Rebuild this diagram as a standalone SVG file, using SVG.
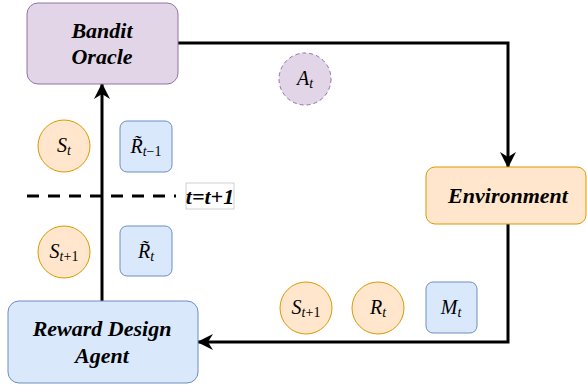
<svg xmlns="http://www.w3.org/2000/svg" width="587" height="387" viewBox="0 0 587 387">
<defs>
<marker id="arr" markerWidth="16" markerHeight="16" refX="15" refY="8" orient="auto" markerUnits="userSpaceOnUse" viewBox="0 0 16 16">
<path d="M0,0 L16,8 L0,16 L5,8 Z" fill="#000"/>
</marker>
<style>
.pur{fill:#e1d5e7;stroke:#9673a6;stroke-width:1}
.ora{fill:#ffe6cc;stroke:#d79b00;stroke-width:1}
.blu{fill:#dae8fc;stroke:#6c8ebf;stroke-width:1}
.edge{fill:none;stroke:#000;stroke-width:3}
</style>
</defs>
<rect width="587" height="387" fill="#fff"/>
<g id="connectors">
<path class="edge" d="M178,43 H508 V167" marker-end="url(#arr)"/>
<path class="edge" d="M508,224 V342 H198" marker-end="url(#arr)"/>
<path class="edge" d="M102,301 V84" marker-end="url(#arr)"/>
<path d="M27,196 H176" stroke="#000" stroke-width="3" stroke-dasharray="12,9" fill="none"/>
</g>
<g font-family="Liberation Serif, serif" font-weight="bold" font-style="italic" font-size="22" text-anchor="middle" fill="#000">
<g id="bandit-oracle">
<rect class="pur" x="27" y="3" width="151" height="81" rx="11"/>
<text x="102" y="38">Bandit</text>
<text x="102" y="64">Oracle</text>
</g>
<g id="environment">
<rect class="ora" x="426" y="167" width="160" height="57" rx="9"/>
<text x="508" y="203">Environment</text>
</g>
<g id="reward-design-agent">
<rect class="blu" x="8" y="301" width="190" height="82" rx="11"/>
<text x="102" y="336">Reward Design</text>
<text x="102" y="363">Agent</text>
</g>
<g id="t-update">
<rect x="186" y="183" width="48" height="26" fill="#fff" stroke="#d0d0d0" stroke-width="1"/>
<text x="210" y="204">t=t+1</text>
</g>
</g>
<g font-family="Liberation Serif, serif" font-style="italic" font-size="20" text-anchor="middle" fill="#000">
<g id="a-t">
<circle cx="305" cy="79" r="26" fill="#e1d5e7" stroke="#9673a6" stroke-dasharray="4,3"/>
<text x="305" y="85">A<tspan font-size="14" dy="3">t</tspan></text>
</g>
<g id="s-t">
<circle class="ora" cx="64" cy="146" r="26"/>
<text x="64" y="152">S<tspan font-size="14" dy="3">t</tspan></text>
</g>
<g id="r-tilde-t-1">
<rect class="blu" x="120" y="121" width="52" height="51" rx="7"/>
<text x="146" y="153">R̃<tspan font-size="14" dy="3">t</tspan><tspan font-size="14" font-style="normal">−1</tspan></text>
</g>
<g id="s-t1-left">
<circle class="ora" cx="64" cy="252" r="26"/>
<text x="64" y="258">S<tspan font-size="14" dy="3">t</tspan><tspan font-size="14" font-style="normal">+1</tspan></text>
</g>
<g id="r-tilde-t">
<rect class="blu" x="120" y="226" width="52" height="50" rx="7"/>
<text x="146" y="258">R̃<tspan font-size="14" dy="3">t</tspan></text>
</g>
<g id="s-t1-bottom">
<circle class="ora" cx="306" cy="308" r="26"/>
<text x="306" y="314">S<tspan font-size="14" dy="3">t</tspan><tspan font-size="14" font-style="normal">+1</tspan></text>
</g>
<g id="r-t">
<circle class="ora" cx="378" cy="308" r="26"/>
<text x="378" y="314">R<tspan font-size="14" dy="3">t</tspan></text>
</g>
<g id="m-t">
<rect class="blu" x="426" y="282" width="51" height="51" rx="7"/>
<text x="451" y="314">M<tspan font-size="14" dy="3">t</tspan></text>
</g>
</g>
</svg>
